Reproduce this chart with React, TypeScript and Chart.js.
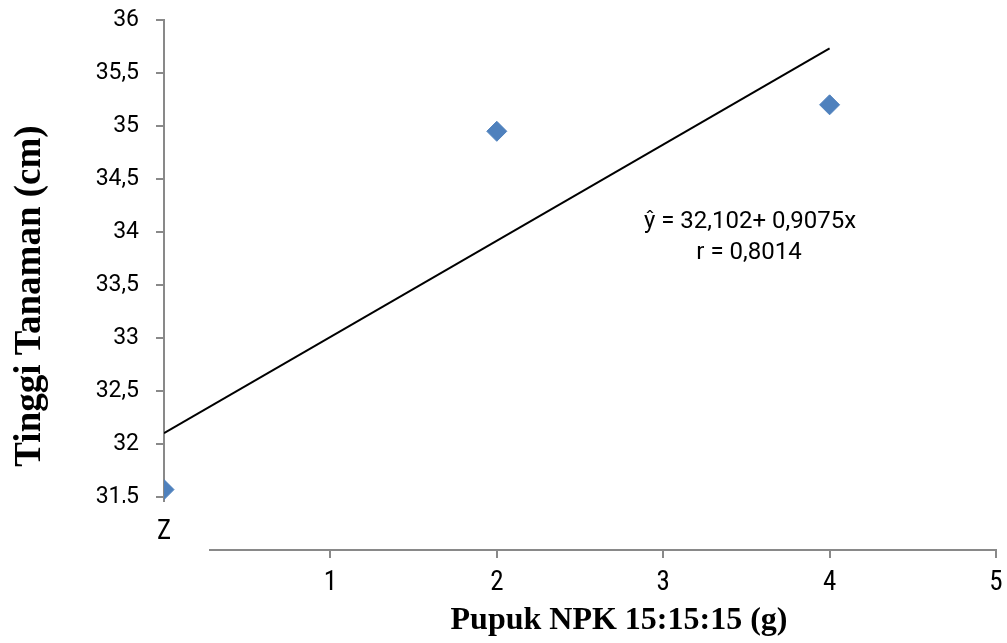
import React, { useEffect, useRef } from 'react';
import { Chart, registerables } from 'chart.js';

Chart.register(...registerables);

// ---- data ----
const doses = [0, 2, 4];
const heights = [31.57, 34.95, 35.2];
const trendX = [0, 4];
const trendY = [32.102, 35.732];
const yTicks = [31.5, 32, 32.5, 33, 33.5, 34, 34.5, 35, 35.5, 36];
const xTicks = [1, 2, 3, 4, 5];
const equationLines = ['ŷ = 32,102+ 0,9075x', 'r = 0,8014'];
const xTitle = 'Pupuk NPK 15:15:15 (g)';
const yTitle = 'Tinggi Tanaman (cm)';
const originLabel = 'Z';

const axisColor = '#898989';
const pointColor = '#4F81BD';
const narrowFont = '"Liberation Sans Narrow", "Arial Narrow", "Roboto Condensed", Roboto, sans-serif';

const overlay = {
  id: 'overlay',
  beforeDatasetsDraw(chart: any) {
    const { ctx, chartArea, scales } = chart;
    const xs = scales.x;
    const ys = scales.y;
    ctx.save();
    ctx.strokeStyle = axisColor;
    ctx.lineWidth = 2;
    const x0 = Math.round(xs.getPixelForValue(0));
    ctx.beginPath();
    ctx.moveTo(x0, ys.getPixelForValue(36) - 1);
    ctx.lineTo(x0, ys.getPixelForValue(31.5) + 5);
    ctx.stroke();
    ctx.beginPath();
    ctx.moveTo(chartArea.left + 45, chartArea.bottom);
    ctx.lineTo(xs.getPixelForValue(5) + 1, chartArea.bottom);
    ctx.stroke();
    ctx.restore();
  },
  afterDraw(chart: any) {
    const { ctx, chartArea, scales } = chart;
    const ys = scales.y;
    ctx.save();
    // clipped bottom of lowest y label
    ctx.fillStyle = '#ffffff';
    ctx.fillRect(80, ys.getPixelForValue(31.5) + 6, chartArea.left - 12 - 80, 14);

    ctx.fillStyle = '#000000';
    ctx.textAlign = 'center';
    ctx.textBaseline = 'middle';
    // origin label
    ctx.font = `27px ${narrowFont}`;
    ctx.fillText(originLabel, chartArea.left, 532);

    // equation
    ctx.font = '24px Roboto';
    ctx.fillText(equationLines[0], 750, 222);
    ctx.fillText(equationLines[1], 749, 253);

    // axis titles
    ctx.font = 'bold 32px "Liberation Serif", "Times New Roman", serif';
    ctx.fillText(xTitle, 619, 621);
    ctx.save();
    ctx.translate(30, 296);
    ctx.rotate(-Math.PI / 2);
    ctx.font = 'bold 37px "Liberation Serif", "Times New Roman", serif';
    ctx.fillText(yTitle, 0, 0);
    ctx.restore();
    ctx.restore();
  },
};

const zeroPad = (s: any) => {
  s.paddingTop = 0;
  s.paddingBottom = 0;
  s.paddingLeft = 0;
  s.paddingRight = 0;
};

export default function App() {
  const ref = useRef<HTMLCanvasElement | null>(null);

  useEffect(() => {
    if (!ref.current) return;
    Chart.defaults.font.family = 'Roboto';
    const chart = new Chart(ref.current, {
      type: 'scatter',
      data: {
        datasets: [
          {
            type: 'line',
            label: 'Trend',
            data: trendX.map((x, i) => ({ x, y: trendY[i] })),
            borderColor: '#000000',
            borderWidth: 2,
            pointRadius: 0,
            fill: false,
          } as any,
          {
            label: 'Tinggi Tanaman',
            data: doses.map((x, i) => ({ x, y: heights[i] })),
            backgroundColor: pointColor,
            borderColor: pointColor,
            borderWidth: 1,
            pointStyle: 'rectRot',
            pointRadius: 10,
          },
        ],
      },
      options: {
        animation: false,
        responsive: true,
        maintainAspectRatio: false,
        layout: { padding: { top: 20, right: 6, left: 1, bottom: 0 } },
        plugins: { legend: { display: false }, tooltip: { enabled: false } },
        scales: {
          x: {
            type: 'linear',
            min: 0,
            max: 5,
            afterBuildTicks: (s: any) => {
              s.ticks = xTicks.map((v) => ({ value: v }));
            },
            afterFit: (s: any) => {
              s.height = 93;
              zeroPad(s);
            },
            border: { display: false },
            grid: {
              drawOnChartArea: false,
              drawTicks: true,
              tickLength: 8,
              color: axisColor,
              lineWidth: 2,
            },
            ticks: {
              color: '#000000',
              padding: 9,
              maxRotation: 0,
              font: { size: 27, family: narrowFont },
            },
          },
          y: {
            type: 'linear',
            min: 31,
            max: 36,
            afterBuildTicks: (s: any) => {
              s.ticks = yTicks.map((v) => ({ value: v }));
            },
            afterFit: (s: any) => {
              s.width = 163;
              zeroPad(s);
            },
            border: { display: false },
            grid: {
              drawOnChartArea: false,
              drawTicks: true,
              tickLength: 8,
              color: axisColor,
              lineWidth: 2,
            },
            ticks: {
              color: '#000000',
              padding: 17,
              font: { size: 23, family: 'Roboto' },
              callback: (v: any) => String(v).replace('.', ','),
            },
          },
        },
      },
      plugins: [overlay],
    });
    return () => chart.destroy();
  }, []);

  return (
    <div style={{ position: 'fixed', left: 0, top: 0, width: 1007, height: 643, background: '#fff' }}>
      <canvas ref={ref} />
    </div>
  );
}
